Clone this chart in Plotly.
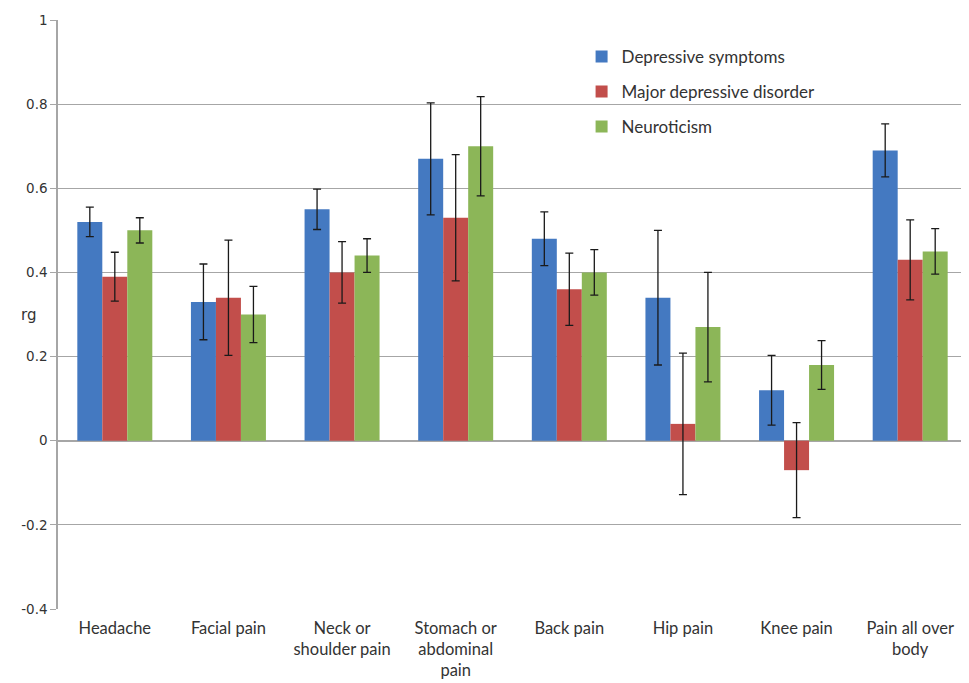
import plotly.graph_objects as go

categories = ["Headache", "Facial pain", "Neck or<br>shoulder pain", "Stomach or<br>abdominal<br>pain",
              "Back pain", "Hip pain", "Knee pain", "Pain all over<br>body"]

series_names = ["Depressive symptoms", "Major depressive disorder", "Neuroticism"]

dep_sym = [0.52, 0.33, 0.55, 0.67, 0.48, 0.34, 0.12, 0.69]
dep_sym_err = [0.035, 0.09, 0.048, 0.133, 0.064, 0.16, 0.083, 0.063]

mdd = [0.39, 0.34, 0.40, 0.53, 0.36, 0.04, -0.07, 0.43]
mdd_err = [0.058, 0.137, 0.073, 0.15, 0.086, 0.168, 0.113, 0.095]

neuro = [0.50, 0.30, 0.44, 0.70, 0.40, 0.27, 0.18, 0.45]
neuro_err = [0.03, 0.067, 0.04, 0.118, 0.054, 0.13, 0.058, 0.054]

y_ticks = [-0.4, -0.2, 0, 0.2, 0.4, 0.6, 0.8, 1]
y_tick_text = ["-0.4", "-0.2", "0", "0.2", "0.4", "0.6", "0.8", "1"]

colors = ["#4479C1", "#C24E4B", "#8CB658"]

fig = go.Figure()
for i, (name, vals, errs) in enumerate(zip(series_names, [dep_sym, mdd, neuro],
                                            [dep_sym_err, mdd_err, neuro_err])):
    fig.add_trace(go.Bar(
        x=categories, y=vals, name=name,
        marker=dict(color=colors[i], line=dict(width=0)),
        error_y=dict(type="data", array=errs, visible=True,
                     color="#1a1a1a", thickness=1.3, width=4),
        legendgroup=f"g{i}",
    ))

# page body has an 8px margin, so the figure is sized/offset to compensate
fig.update_layout(
    width=961, height=675,
    paper_bgcolor="white", plot_bgcolor="white",
    margin=dict(l=50, r=2, t=12, b=74, autoexpand=False),
    barmode="group", bargap=0.34, bargroupgap=0,
    showlegend=True,
    legend=dict(x=0.576, y=0.968, xanchor="left", yanchor="top",
                font=dict(family="Lato", size=17, color="#333333"),
                bgcolor="rgba(0,0,0,0)", tracegroupgap=10,
                itemsizing="constant"),
    font=dict(family="Lato", color="#333333"),
)

fig.update_xaxes(
    showgrid=False, showline=False, ticks="",
    tickfont=dict(family="Lato", size=16.5, color="#333333"),
    tickangle=0, ticklabelstandoff=7,
)
fig.update_yaxes(
    range=[-0.4, 1], tickvals=y_ticks, ticktext=y_tick_text,
    showgrid=True, gridcolor="#A6A6A6", gridwidth=1.3,
    zeroline=True, zerolinecolor="#A6A6A6", zerolinewidth=1.5,
    showline=True, linecolor="#A6A6A6", linewidth=1.5,
    ticks="outside", ticklen=6, tickcolor="#A6A6A6",
    tickfont=dict(family="DejaVu Sans", size=13.5, color="#333333"),
)

fig.add_annotation(text="rg", xref="paper", yref="paper", x=-0.033, y=0.5,
                   showarrow=False, font=dict(family="DejaVu Sans", size=15, color="#333333"),
                   xanchor="center", yanchor="middle")

fig.write_html("out.html")
